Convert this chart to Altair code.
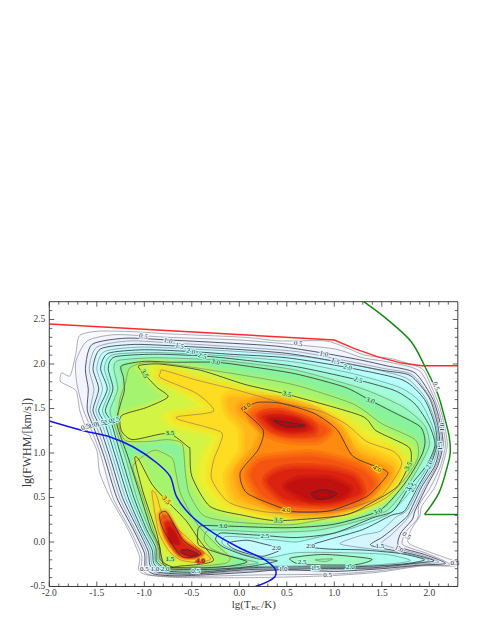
import altair as alt
import pandas as pd

L050 = [(-1.68,2.32),(-1.72,2.12),(-1.78,1.87),(-1.87,1.9),(-1.88,1.8),(-1.72,1.7),(-1.68,1.48),(-1.62,1.3),(-1.5,1.03),(-1.47,0.78),(-1.36,0.5),(-1.17,0.14),(-1.05,-0.16),(-1.06,-0.31),(-0.97,-0.37),(-0.62,-0.40),(0.2,-0.40),(0.93,-0.38),(1.46,-0.34),(1.92,-0.27),(2.27,-0.27),(2.28,-0.22),(2.02,-0.12),(1.78,-0.01),(1.81,0.14),(1.9,0.29),(1.92,0.40),(2.06,0.62),(2.14,0.86),(2.19,1.09),(2.16,1.31),(2.10,1.55),(2.0,1.8),(1.92,1.95),(1.6,2.06),(1.32,2.10),(1.11,2.19),(0.9,2.26),(0.41,2.26),(0.06,2.30),(-0.76,2.34),(-1.05,2.36),(-1.47,2.37)]
L075 = [(-1.6,2.26),(-1.72,2.03),(-1.71,1.78),(-1.64,1.48),(-1.57,1.3),(-1.46,0.98),(-1.33,0.5),(-1.15,0.14),(-1.03,-0.14),(-1.03,-0.3),(-0.94,-0.37),(-0.6,-0.39),(0.2,-0.37),(1.0,-0.36),(1.5,-0.32),(1.9,-0.265),(2.22,-0.255),(1.98,-0.13),(1.72,-0.03),(1.76,0.12),(1.88,0.27),(1.89,0.41),(2.02,0.63),(2.12,0.86),(2.17,1.09),(2.14,1.31),(2.07,1.57),(1.9,1.92),(1.58,2.02),(1.3,2.07),(1.0,2.17),(0.45,2.23),(0,2.27),(-0.75,2.3),(-1.3,2.33)]
L100 = [(-1.55,2.22),(-1.62,1.95),(-1.59,1.72),(-1.6,1.48),(-1.53,1.28),(-1.42,0.95),(-1.29,0.5),(-1.12,0.15),(-1.0,-0.12),(-0.99,-0.28),(-0.9,-0.36),(-0.6,-0.38),(0.1,-0.34),(0.46,-0.31),(1.0,-0.33),(1.5,-0.30),(1.9,-0.26),(2.17,-0.24),(1.95,-0.14),(1.68,-0.05),(1.7,0.1),(1.82,0.25),(1.85,0.35),(1.97,0.62),(2.09,0.86),(2.145,1.09),(2.12,1.31),(2.04,1.6),(1.85,1.9),(1.55,1.98),(1.3,2.04),(0.9,2.12),(0.4,2.2),(-0.2,2.24),(-0.75,2.27),(-1.2,2.29)]
L125 = [(-1.5,2.19),(-1.58,1.95),(-1.53,1.72),(-1.57,1.48),(-1.5,1.29),(-1.39,0.95),(-1.26,0.5),(-1.1,0.15),(-0.98,-0.11),(-0.97,-0.27),(-0.87,-0.35),(-0.55,-0.37),(0.1,-0.325),(0.8,-0.315),(1.45,-0.295),(1.88,-0.25),(2.1,-0.225),(1.88,-0.135),(1.6,-0.06),(1.5,-0.01),(1.6,0.08),(1.75,0.24),(1.83,0.36),(1.95,0.62),(2.075,0.86),(2.13,1.09),(2.105,1.31),(2.02,1.6),(1.82,1.88),(1.52,1.95),(1.15,2.03),(0.6,2.14),(-0.15,2.2),(-0.7,2.235),(-1.15,2.26)]
L150 = [(-1.46,2.17),(-1.54,1.95),(-1.48,1.72),(-1.54,1.48),(-1.47,1.3),(-1.36,0.95),(-1.23,0.5),(-1.07,0.15),(-0.96,-0.1),(-0.94,-0.26),(-0.85,-0.34),(-0.5,-0.36),(0.1,-0.31),(0.8,-0.3),(1.4,-0.29),(1.85,-0.24),(2.05,-0.21),(1.8,-0.13),(1.5,-0.07),(1.38,-0.03),(1.5,0.05),(1.62,0.15),(1.76,0.28),(1.8,0.35),(1.92,0.62),(2.06,0.86),(2.11,1.09),(2.09,1.31),(2.0,1.62),(1.8,1.87),(1.5,1.93),(1.01,2.03),(0.5,2.12),(-0.1,2.17),(-0.63,2.2),(-1.1,2.22)]
L175 = [(-1.42,2.14),(-1.5,1.95),(-1.44,1.72),(-1.51,1.48),(-1.44,1.31),(-1.33,0.95),(-1.2,0.5),(-1.05,0.15),(-0.94,-0.09),(-0.92,-0.25),(-0.82,-0.33),(-0.47,-0.35),(0.1,-0.3),(0.7,-0.29),(1.3,-0.285),(1.8,-0.245),(2.0,-0.205),(1.75,-0.13),(1.4,-0.08),(1.06,-0.02),(1.3,0.08),(1.48,0.12),(1.65,0.28),(1.77,0.36),(1.9,0.62),(2.035,0.86),(2.095,1.09),(2.075,1.31),(1.97,1.6),(1.76,1.84),(1.3,1.97),(0.7,2.08),(0,2.14),(-0.55,2.17),(-1.05,2.19)]
L200 = [(-1.38,2.12),(-1.46,1.95),(-1.39,1.72),(-1.48,1.48),(-1.41,1.32),(-1.3,0.95),(-1.17,0.5),(-1.03,0.15),(-0.92,-0.08),(-0.9,-0.24),(-0.8,-0.32),(-0.45,-0.34),(0.1,-0.29),(0.6,-0.28),(1.17,-0.28),(1.7,-0.25),(1.95,-0.20),(1.7,-0.13),(1.3,-0.09),(0.95,-0.08),(0.72,-0.05),(0.95,0.03),(1.3,0.14),(1.6,0.3),(1.74,0.35),(1.88,0.62),(2.01,0.86),(2.08,1.09),(2.06,1.31),(1.95,1.6),(1.72,1.82),(1.14,1.96),(0.5,2.07),(-0.1,2.11),(-0.51,2.14),(-1.0,2.16)]
H200 = [(-0.12,-0.01),(0.08,0.02),(0.25,-0.02),(0.44,-0.08),(0.25,-0.16),(0.05,-0.12),(-0.07,-0.07)]
L225 = [(-1.34,2.1),(-1.42,1.95),(-1.36,1.72),(-1.44,1.48),(-1.38,1.33),(-1.27,0.95),(-1.14,0.5),(-1.0,0.15),(-0.9,-0.07),(-0.88,-0.23),(-0.77,-0.31),(-0.42,-0.325),(0.05,-0.28),(0.6,-0.27),(1.2,-0.27),(1.65,-0.24),(1.8,-0.205),(1.55,-0.14),(1.1,-0.12),(0.6,-0.12),(0.3,-0.18),(0.05,-0.14),(-0.17,-0.03),(-0.15,0.06),(0.1,0.05),(0.4,0.02),(0.6,0.0),(0.85,0.06),(1.2,0.16),(1.55,0.3),(1.68,0.42),(1.84,0.62),(1.99,0.86),(2.07,1.09),(2.03,1.31),(1.9,1.58),(1.68,1.74),(1.2,1.89),(0.6,2.02),(0,2.08),(-0.45,2.11),(-0.95,2.13)]
L250 = [(-1.31,2.08),(-1.38,1.95),(-1.33,1.72),(-1.41,1.48),(-1.35,1.35),(-1.24,0.95),(-1.11,0.5),(-0.98,0.15),(-0.88,-0.06),(-0.87,-0.22),(-0.75,-0.30),(-0.4,-0.31),(0.0,-0.29),(0.25,-0.25),(0.4,-0.21),(0.2,-0.19),(0,-0.13),(-0.18,-0.05),(-0.25,0.03),(-0.2,0.1),(0.0,0.09),(0.29,0.07),(0.6,0.05),(1.0,0.1),(1.4,0.27),(1.62,0.35),(1.79,0.62),(1.97,0.86),(2.06,1.09),(2.0,1.31),(1.85,1.55),(1.64,1.70),(1.25,1.82),(0.6,1.97),(0,2.05),(-0.39,2.09),(-0.9,2.11)]
I250 = [(0.54,-0.18),(0.9,-0.14),(1.39,-0.19),(1.22,-0.255),(0.72,-0.255),(0.6,-0.24)]
L275 = [(-1.27,2.04),(-1.32,1.95),(-1.28,1.72),(-1.36,1.48),(-1.32,1.33),(-1.2,0.95),(-1.08,0.5),(-0.95,0.15),(-0.86,-0.05),(-0.85,-0.21),(-0.72,-0.29),(-0.4,-0.30),(-0.1,-0.275),(0.2,-0.235),(-0.1,-0.16),(-0.3,-0.07),(-0.37,0.03),(-0.33,0.13),(-0.1,0.13),(0.3,0.11),(0.8,0.13),(1.2,0.22),(1.55,0.35),(1.75,0.6),(1.9,0.86),(2.0,1.09),(1.95,1.31),(1.72,1.52),(1.3,1.72),(0.6,1.93),(0,2.02),(-0.3,2.05),(-0.9,2.07)]
I275 = [(0.8,-0.2),(0.98,-0.19),(0.9,-0.22)]
L300 = [(-1.24,1.98),(-1.22,1.85),(-1.21,1.7),(-1.25,1.55),(-1.29,1.33),(-1.17,0.95),(-1.05,0.55),(-0.93,0.15),(-0.84,-0.05),(-0.83,-0.2),(-0.7,-0.28),(-0.4,-0.29),(-0.1,-0.27),(0.08,-0.22),(-0.2,-0.13),(-0.42,-0.04),(-0.44,0.08),(-0.41,0.18),(-0.17,0.18),(0.5,0.16),(1.0,0.2),(1.47,0.35),(1.7,0.6),(1.83,0.8),(1.93,1.0),(1.955,1.14),(1.9,1.3),(1.6,1.47),(1.38,1.59),(1.11,1.74),(0.59,1.89),(0.06,1.98),(-0.25,2.02),(-0.7,2.02),(-1.0,2.03)]
M325 = [(-1.15,1.96),(-1.2,1.78),(-1.26,1.59),(-1.27,1.33),(-1.2,1.14),(-0.95,1.13),(-0.75,1.15),(-0.6,1.1),(-0.57,0.8),(-0.53,0.55),(-0.38,0.3),(-0.1,0.23),(0.3,0.2),(0.6,0.2),(1.2,0.33),(1.55,0.5),(1.75,0.72),(1.88,0.95),(1.85,1.15),(1.5,1.33),(1.2,1.55),(0.6,1.76),(0.06,1.87),(-0.6,1.98),(-0.95,2.02)]
A325 = [(-0.81,-0.2),(-0.9,0.12),(-1.03,0.55),(-1.12,0.85),(-0.96,1.0),(-0.87,1.03),(-0.73,0.96),(-0.69,0.9),(-0.62,0.55),(-0.45,0.21),(-0.25,-0.02),(-0.1,-0.17),(-0.15,-0.24),(-0.45,-0.275),(-0.72,-0.285)]
M350 = [(-1.06,1.98),(-0.84,2.0),(-0.41,1.93),(0.06,1.77),(0.5,1.66),(1.28,1.42),(1.44,1.25),(1.78,1.07),(1.81,0.92),(1.79,0.87),(1.66,0.62),(1.39,0.44),(1.1,0.3),(0.41,0.24),(0.04,0.3),(-0.31,0.40),(-0.5,0.74),(-0.52,1.04),(-0.54,1.07),(-0.75,1.22),(-1.12,1.15),(-1.24,1.25),(-1.24,1.42),(-0.98,1.51),(-0.75,1.63),(-0.87,1.74),(-1.0,1.89)]
A350 = [(-1.1,0.93),(-1.06,0.93),(-0.92,0.65),(-0.77,0.47),(-0.56,0.24),(-0.42,0.02),(-0.27,-0.2),(-0.41,-0.25),(-0.62,-0.27),(-0.73,-0.29),(-0.8,-0.25),(-0.82,-0.16),(-0.87,0.10),(-1.01,0.55)]
M362 = [(-0.9,1.9),(-0.6,1.88),(-0.2,1.75),(0.3,1.62),(0.9,1.5),(1.3,1.25),(1.6,1.06),(1.75,0.9),(1.7,0.75),(1.5,0.47),(1.1,0.32),(0.5,0.28),(0.05,0.33),(-0.2,0.42),(-0.4,0.7),(-0.38,0.95),(-0.28,1.12),(-0.3,1.22),(-0.7,1.32),(-0.76,1.42),(-0.4,1.5),(-0.55,1.66)]
M375 = [(-0.83,1.9),(-0.8,1.93),(-0.45,1.82),(0,1.7),(0.46,1.56),(0.85,1.47),(1.13,1.32),(1.34,1.13),(1.62,1.02),(1.71,0.9),(1.67,0.78),(1.48,0.51),(1.06,0.36),(0.35,0.33),(-0.1,0.44),(-0.29,0.7),(-0.27,0.92),(-0.2,1.11),(-0.2,1.24),(-0.62,1.37),(-0.64,1.41),(-0.27,1.47),(-0.45,1.67),(-0.82,1.84)]
A375 = [(-0.92,0.56),(-0.87,0.52),(-0.8,0.29),(-0.6,0.1),(-0.45,-0.05),(-0.3,-0.19),(-0.45,-0.23),(-0.62,-0.2),(-0.74,-0.1),(-0.85,0.12)]
M388 = [(-0.1,1.62),(0.3,1.6),(0.75,1.48),(1.05,1.3),(1.25,1.05),(1.6,0.88),(1.62,0.75),(1.42,0.5),(1.0,0.35),(0.4,0.35),(-0.02,0.48),(-0.1,0.75),(0.05,1.0),(0.05,1.28),(-0.1,1.47)]
M400 = [(0.43,1.56),(0.78,1.45),(1.03,1.26),(1.2,0.96),(1.53,0.81),(1.55,0.74),(1.34,0.51),(0.95,0.35),(0.6,0.34),(0.45,0.38),(0.08,0.55),(0.01,0.78),(0.2,1.04),(0.25,1.26),(0.03,1.49),(0.08,1.52),(0.2,1.57)]
A400 = [(-0.84,0.31),(-0.76,0.33),(-0.6,0.03),(-0.41,-0.12),(-0.45,-0.16),(-0.61,-0.16),(-0.8,0.14)]
T412 = [(0.15,1.42),(0.32,1.5),(0.65,1.42),(0.92,1.27),(0.82,1.17),(0.55,1.17),(0.32,1.24)]
B412 = [(0.12,0.75),(0.25,0.52),(0.5,0.42),(0.95,0.40),(1.25,0.47),(1.42,0.65),(1.3,0.8),(1.05,0.9),(0.75,0.96),(0.45,0.94),(0.22,0.9)]
A412 = [(-0.82,0.27),(-0.74,0.28),(-0.58,0.02),(-0.38,-0.12),(-0.47,-0.18),(-0.64,-0.15),(-0.78,0.05)]
T420 = [(0.24,1.41),(0.45,1.44),(0.72,1.34),(0.77,1.25),(0.55,1.23),(0.36,1.28)]
B420 = [(0.3,0.68),(0.5,0.48),(0.95,0.44),(1.27,0.55),(1.2,0.72),(0.95,0.8),(0.6,0.82),(0.4,0.78)]
A420 = [(-0.78,0.21),(-0.71,0.21),(-0.59,-0.01),(-0.42,-0.13),(-0.52,-0.17),(-0.64,-0.12),(-0.74,0.03)]
T430 = [(0.32,1.39),(0.6,1.37),(0.7,1.29),(0.55,1.26),(0.4,1.3)]
B430 = [(0.5,0.62),(0.75,0.48),(1.05,0.5),(1.15,0.6),(0.95,0.7),(0.65,0.7)]
A430 = [(-0.75,0.16),(-0.69,0.12),(-0.63,-0.02),(-0.72,0.0)]
T425 = [(0.376,1.365),(0.69,1.31),(0.52,1.29),(0.41,1.33)]
B425 = [(0.76,0.55),(0.9,0.59),(1.03,0.54),(0.9,0.48),(0.8,0.49)]
A425 = [(-0.61,-0.09),(-0.53,-0.09),(-0.43,-0.14),(-0.52,-0.16),(-0.61,-0.12)]

THICK, THIN, NONE = (0.8, "#303038"), (0.5, "#60606c"), None
contours = [
    (L050, "#f8faff", THIN, 0), (L075, "#f2f5ff", THIN, 0), (L100, "#e8f0ff", THICK, 0), (L125, "#e0f4ff", THIN, 0),
    (L150, "#d4f7ff", THICK, 0), (L175, "#c6fbff", THIN, 0), (L200, "#b8fffc", THICK, 4), (H200, "#c6fbff", THICK, 4),
    (L225, "#aaffee", THIN, 4), (L250, "#a4fcdc", THICK, 6), (I250, "#a0fbc4", THICK, 6), (L275, "#98f8bc", THIN, 6),
    (I275, "#98f8a4", THIN, 4), (L300, "#88f29c", THICK, 6), (M325, "#a4f470", THIN, 10), (A325, "#a4f470", THIN, 8),
    (M350, "#d2f444", THICK, 10), (A350, "#d2f444", THICK, 6), (M362, "#eef030", NONE, 12), (M375, "#fddc22", THIN, 12),
    (A375, "#fddc22", THIN, 6), (M388, "#ffb618", NONE, 14), (M400, "#ff8a10", THICK, 14), (A400, "#ff8a10", THICK, 6),
    (T412, "#f45410", NONE, 14), (B412, "#f45410", NONE, 14), (A412, "#f45410", NONE, 4), (T420, "#dc2210", NONE, 12),
    (B420, "#dc2210", NONE, 12), (A420, "#dc2210", NONE, 4), (T430, "#c01010", NONE, 8), (B430, "#c01010", NONE, 10),
    (A430, "#c01010", NONE, 3), (T425, "#b00c10", THICK, 0), (B425, "#b00c10", THICK, 0), (A425, "#c01010", THICK, 0),
]

red_x = [-2.0, 1.0, 1.22, 1.46, 1.71, 1.92, 2.3]
red_y = [2.45, 2.27, 2.17, 2.08, 2.01, 1.98, 1.98]
blue_x = [-2.0, -1.64, -1.36, -1.12, -0.87, -0.73, -0.66, -0.52, -0.27, 0.01, 0.27, 0.38, 0.38, 0.31, 0.17]
blue_y = [1.36, 1.25, 1.18, 1.07, 0.89, 0.74, 0.51, 0.31, 0.10, -0.07, -0.2, -0.31, -0.38, -0.44, -0.5]
green_x = [1.31, 1.57, 1.81, 1.95, 2.09, 2.16, 2.21, 2.22, 2.18, 2.1, 1.95]
green_y = [2.70, 2.49, 2.25, 1.98, 1.66, 1.40, 1.18, 1.0, 0.81, 0.55, 0.31]
green2_x = [1.95, 2.3]
green2_y = [0.31, 0.31]

label_text = ["0.5","1.0","1.5","2.0","2.5","3.0","3.5","3.5","3.5","0.5","1.0","1.5","2.0","2.5","3.0","3.5",
              "4.0","0.5","1.0","1.5","2.0","2.5","3.5","3.0","4.0","4.0","3.5","2.5","2.0","2.0","2.5","1.5","1.0","0.5","2.0","1.5","1.0","0.5","3.0","3.5","1.5","4.0","0.5",
              "0.5","1.0","1.5","2.0","2.5","0.5","1.0","2.0","0.5"]
label_x = [-1.01,-0.75,-0.63,-0.51,-0.39,-0.25,-1.0,-0.73,0.5,0.62,0.89,1.01,1.14,1.25,1.38,1.79,
           0.08,2.07,2.13,2.11,2.0,1.83,1.78,1.46,1.45,0.49,0.41,0.27,0.39,0.75,0.66,0.8,0.46,0.93,1.17,1.48,1.68,1.76,-0.17,-0.77,-0.73,-0.41,-0.46,
           -1.62,-1.54,-1.46,-1.38,-1.30,-1.0,-0.89,-0.78,2.27]
label_y = [2.31,2.26,2.2,2.14,2.09,2.02,1.89,1.22,1.66,2.23,2.11,2.03,1.96,1.82,1.59,0.62,
           1.52,1.75,1.29,1.08,0.87,0.61,0.85,0.34,0.82,0.36,0.24,0.07,-0.07,-0.05,-0.23,-0.29,-0.3,-0.37,-0.28,-0.05,-0.08,0.07,0.18,0.47,-0.19,-0.21,-0.33,
           1.29,1.31,1.33,1.35,1.37,-0.3,-0.3,-0.3,-0.24]
label_angle = [15,15,15,15,15,15,60,0,15,10,15,20,15,20,20,300,
               320,70,270,270,290,300,300,340,30,0,5,0,0,0,0,0,0,0,0,0,30,40,0,50,0,0,0,
               340,340,340,340,340,0,0,0,0]
label_bg = ["#f2f5ff","#e0f4ff","#d4f7ff","#b8fffc","#aaffee","#98f8bc","#a4f470","#a4f470","#a4f470","#f2f5ff","#e0f4ff","#d4f7ff","#b8fffc","#aaffee","#98f8bc","#aaffee",
            "#ffb618","#f2f5ff","#e0f4ff","#d4f7ff","#b8fffc","#aaffee","#a4f470","#98f8bc","#fddc22","#fddc22","#a4f470","#aaffee","#c6fbff","#c6fbff","#aaffee","#c6fbff","#e0f4ff","#f2f5ff","#aaffee","#d4f7ff","#f2f5ff","#f8faff","#98f8bc","#fddc22","#a4f470","#f45410","#c6fbff",
            "#f2f5ff","#e0f4ff","#d4f7ff","#b8fffc","#aaffee","#f2f5ff","#e0f4ff","#b8fffc","#f2f5ff"]

x_major = [-2.0,-1.5,-1.0,-0.5,0.0,0.5,1.0,1.5,2.0]
y_major = [-0.5,0.0,0.5,1.0,1.5,2.0,2.5]
x_minor = [-1.9,-1.8,-1.7,-1.6,-1.4,-1.3,-1.2,-1.1,-0.9,-0.8,-0.7,-0.6,-0.4,-0.3,-0.2,-0.1,0.1,0.2,0.3,0.4,0.6,0.7,0.8,0.9,1.1,1.2,1.3,1.4,1.6,1.7,1.8,1.9,2.1,2.2]
y_minor = [-0.4,-0.3,-0.2,-0.1,0.1,0.2,0.3,0.4,0.6,0.7,0.8,0.9,1.1,1.2,1.3,1.4,1.6,1.7,1.8,1.9,2.1,2.2,2.3,2.4,2.6]
x_tick_text = ["-2.0","-1.5","-1.0","-0.5","0.0","0.5","1.0","1.5","2.0"]
y_tick_text = ["-0.5","0.0","0.5","1.0","1.5","2.0","2.5"]

W, H = 408.5, 284.8
FONT = "Liberation Serif"
INK = "#3a3a3a"
xs = alt.Scale(domain=[-2.0, 2.3], nice=False, zero=False)
ys = alt.Scale(domain=[-0.5, 2.7], nice=False, zero=False)
X = lambda: alt.X("x:Q", scale=xs, axis=None)
Y = lambda: alt.Y("y:Q", scale=ys, axis=None)

def path(points):
    return pd.DataFrame({"x": [p[0] for p in points], "y": [p[1] for p in points], "i": range(len(points))})

def closed(d, **mark):
    return alt.Chart(d).mark_line(interpolate="cardinal-closed", tension=0.3, clip=True, **mark).encode(
        x=X(), y=Y(), order=alt.Order("i:Q"))

layers = []
for pts, fill, line, soft in contours:
    d = path(pts)
    if soft:
        layers.append(closed(d, stroke=fill, strokeWidth=soft, strokeOpacity=0.3))
        layers.append(closed(d, stroke=fill, strokeWidth=soft * 0.6, strokeOpacity=0.35))
        layers.append(closed(d, stroke=fill, strokeWidth=soft * 0.3, strokeOpacity=0.4, fill=fill))
    else:
        layers.append(closed(d, stroke=fill, strokeWidth=0, fill=fill))
for pts, fill, line, soft in contours:
    if line:
        layers.append(closed(path(pts), stroke=line[1], strokeWidth=line[0]))

def curve(xv, yv, color, interp):
    d = pd.DataFrame({"x": xv, "y": yv, "i": range(len(xv))})
    return alt.Chart(d).mark_line(color=color, strokeWidth=1.5, interpolate=interp, clip=True).encode(
        x=X(), y=Y(), order=alt.Order("i:Q"))

layers += [curve(red_x, red_y, "#ff2a2a", "linear"), curve(green_x, green_y, "#148a14", "catmull-rom"),
           curve(green2_x, green2_y, "#148a14", "linear"), curve(blue_x, blue_y, "#1414f0", "catmull-rom")]

lab = pd.DataFrame({"x": label_x, "y": label_y, "t": label_text, "a": label_angle, "bg": label_bg})
layers.append(alt.Chart(lab).mark_text(font=FONT, fontSize=7, strokeWidth=2).encode(
    x=X(), y=Y(), text="t:N", angle=alt.Angle("a:Q", scale=None),
    stroke=alt.Stroke("bg:N", scale=None), color=alt.Color("bg:N", scale=None)))
layers.append(alt.Chart(lab).mark_text(font=FONT, fontSize=7, color="#2b2b2b").encode(
    x=X(), y=Y(), text="t:N", angle=alt.Angle("a:Q", scale=None)))

tick = dict(color=INK, strokeWidth=0.8)
for vals, size in ((x_major, 5), (x_minor, 3)):
    d = pd.DataFrame({"x": vals})
    layers.append(alt.Chart(d).mark_rule(**tick).encode(x=X(), y=alt.value(H), y2=alt.value(H - size)))
    layers.append(alt.Chart(d).mark_rule(**tick).encode(x=X(), y=alt.value(0), y2=alt.value(size)))
for vals, size in ((y_major, 5), (y_minor, 3)):
    d = pd.DataFrame({"y": vals})
    layers.append(alt.Chart(d).mark_rule(**tick).encode(y=Y(), x=alt.value(0), x2=alt.value(size)))
    layers.append(alt.Chart(d).mark_rule(**tick).encode(y=Y(), x=alt.value(W), x2=alt.value(W - size)))

frame = alt.Chart(pd.DataFrame({"k": [0]})).mark_rule(color=INK, strokeWidth=1)
layers += [frame.encode(x=alt.value(0), x2=alt.value(W), y=alt.value(0)),
           frame.encode(x=alt.value(0), x2=alt.value(W), y=alt.value(H)),
           frame.encode(y=alt.value(0), y2=alt.value(H), x=alt.value(0)),
           frame.encode(y=alt.value(0), y2=alt.value(H), x=alt.value(W))]

layers.append(alt.Chart(pd.DataFrame({"x": x_major, "t": x_tick_text})).mark_text(
    font=FONT, fontSize=9.5, color=INK, align="center", baseline="middle").encode(x=X(), y=alt.value(H + 7), text="t:N"))
layers.append(alt.Chart(pd.DataFrame({"y": y_major, "t": y_tick_text})).mark_text(
    font=FONT, fontSize=9.5, color=INK, align="right", baseline="middle").encode(y=Y(), x=alt.value(-4), text="t:N"))

def note(text, x, y, size, angle=0):
    return alt.Chart(pd.DataFrame({"k": [0]})).mark_text(text=text, font=FONT, fontSize=size, color=INK, angle=angle,
                                                          align="left" if angle == 0 else "center").encode(
        x=alt.value(x), y=alt.value(y))

layers += [note("lg(T", 182.5, 303.5, 11), note("BC", 202, 306, 7), note("/K)", 212, 303.5, 11),
           note("lg(FWHM/[km/s])", -22.3, 141, 12, 270)]

chart = alt.layer(*layers).properties(
    width=W, height=H, background="white",
    autosize=alt.AutoSizeParams(type="none"),
    padding={"left": 41.3, "top": 293.7, "right": 25, "bottom": 30},
).configure_view(stroke=None)

chart.save("out.html", embed_options={"renderer": "svg", "actions": False})
